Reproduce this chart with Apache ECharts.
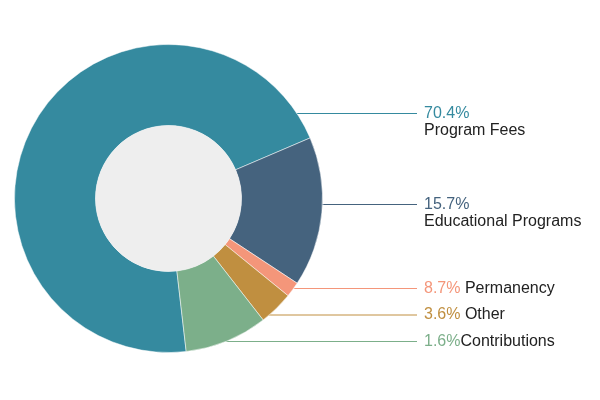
<!DOCTYPE html>
<html><head><meta charset="utf-8">
<script src="https://cdn.jsdelivr.net/npm/echarts@6/dist/echarts.min.js"></script>
<style>html,body{margin:0;padding:0;background:#fff}#c{width:600px;height:400px}</style>
</head><body><div id="c"></div>
<script>
// ---- data ----
const categories = ['Program Fees', 'Educational Programs', 'Permanency', 'Other', 'Contributions'];
const sliceValues = [70.4, 15.7, 1.6, 3.6, 8.7];
const labelPercents = ['70.4%', '15.7%', '8.7%', '3.6%', '1.6%'];
const labelSeparators = ['\n', '\n', ' ', ' ', ''];
const colors = ['#358a9f', '#45637e', '#f4967a', '#c08f40', '#7caf8a'];

// ---- layout ----
const cx = 168.5, cy = 198.5, rOuter = 154, rInner = 73;
const labelLineY = [113.5, 204.5, 288.5, 315, 341.5];
const lineEndX = 417, labelX = 424, lineH = 17;

const chart = echarts.init(document.getElementById('c'), null, {renderer: 'canvas'});
chart.setOption({
  backgroundColor: '#fff',
  animation: false,
  series: [
    {
      type: 'pie',
      center: [cx, cy],
      radius: [rInner, rOuter],
      startAngle: 276.6,
      clockwise: true,
      avoidLabelOverlap: false,
      itemStyle: {borderColor: '#fff', borderWidth: 0.5},
      label: {
        show: true,
        position: 'outside',
        fontFamily: 'Liberation Sans, Arial, sans-serif',
        fontSize: 16,
        lineHeight: lineH,
        formatter: function (p) {
          return '{p|' + labelPercents[p.dataIndex] + '}' + labelSeparators[p.dataIndex] + '{n|' + p.name + '}';
        },
        rich: {
          p: {fontSize: 16, lineHeight: lineH, fontFamily: 'Liberation Sans, Arial, sans-serif'},
          n: {fontSize: 16, lineHeight: lineH, color: '#222', fontFamily: 'Liberation Sans, Arial, sans-serif'}
        }
      },
      labelLine: {show: true, smooth: false, lineStyle: {width: 1}},
      labelLayout: function (p) {
        const i = p.dataIndex;
        const ly = labelLineY[i];
        const dy = ly - cy;
        const x0 = cx + Math.sqrt(rOuter * rOuter - dy * dy);
        return {
          x: labelX,
          y: ly - lineH / 2,
          align: 'left',
          verticalAlign: 'top',
          labelLinePoints: [[x0, ly], [x0 + 1, ly], [lineEndX, ly]]
        };
      },
      data: categories.map(function (c, i) {
        return {
          name: c,
          value: sliceValues[i],
          itemStyle: {color: colors[i]},
          label: {color: colors[i]},
          labelLine: {lineStyle: {color: colors[i]}}
        };
      })
    },
    {
      type: 'pie',
      center: [cx, cy],
      radius: [0, rInner],
      silent: true,
      label: {show: false},
      labelLine: {show: false},
      itemStyle: {color: '#eeeeee'},
      data: [{value: 1, name: 'hole'}]
    }
  ]
});
</script>
</body></html>
